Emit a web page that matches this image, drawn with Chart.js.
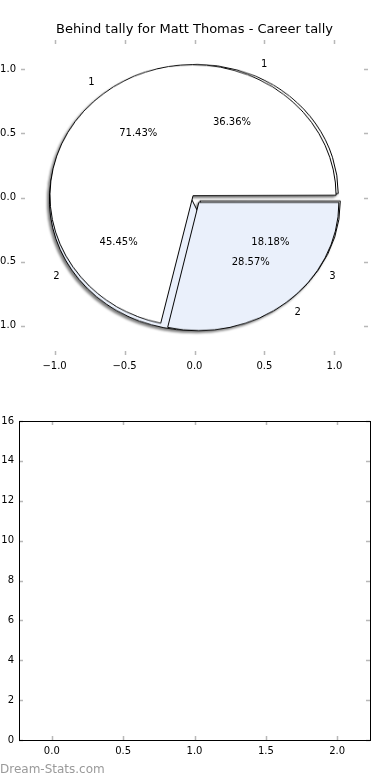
<!DOCTYPE html>
<html>
<head>
<meta charset="utf-8">
<script src="https://cdn.jsdelivr.net/npm/chart.js@4.4.0/dist/chart.umd.min.js"></script>
<style>
    html, body { margin: 0; padding: 0; background: #fff; }
    body { width: 390px; height: 780px; position: relative; overflow: hidden; }
    #pieCanvas { position: absolute; left: -40px; top: 0; }
    #barCanvas { position: absolute; left: 0; top: 390px; }
    #pieLayer {
        position: absolute; left: 0; top: 0; width: 390px; height: 390px;
        filter: drop-shadow(-2px 2px 1px rgba(0, 0, 0, 0.5));
    }
    #pieLayer canvas { position: absolute; }
</style>
</head>
<body>
<div id="pieLayer"></div>
<canvas id="pieCanvas" width="470" height="390"></canvas>
<canvas id="barCanvas" width="390" height="390"></canvas>
<script>
// Chart data
const chartTitle = 'Behind tally for Matt Thomas - Career tally';
const backLabels = ['1', '2', '3'];
const backValues = [4, 5, 2];
const frontLabels = ['1', '2'];
const frontValues = [5, 2];
const sliceColors = ['#ffffff', '#eaf0fb', '#ffffff'];
const explode = 0.045;

// Tick values
const pieTicks = [-1.0, -0.5, 0.0, 0.5, 1.0];
const barXTicks = [0.0, 0.5, 1.0, 1.5, 2.0];
const barYTicks = [0, 2, 4, 6, 8, 10, 12, 14, 16];

const FONT = 'DejaVu Sans';

function fmtTick(v) {
    return v.toFixed(1).replace('-', '\u2212');
}

/**
 * Draw short inward tick marks on all four sides of the chart area
 */
const innerTicks = {
    id: 'innerTicks',
    afterDraw(chart, args, opts) {
        const ctx = chart.ctx;
        const area = chart.chartArea;
        const len = 4;
        ctx.save();
        ctx.strokeStyle = '#b8b8b8';
        ctx.lineWidth = 1.5;
        chart.scales.x.ticks.forEach(t => {
            const px = Math.round(chart.scales.x.getPixelForValue(t.value)) + 0.5;
            ctx.beginPath();
            ctx.moveTo(px, area.top); ctx.lineTo(px, area.top + len);
            ctx.moveTo(px, area.bottom); ctx.lineTo(px, area.bottom - len);
            ctx.stroke();
        });
        chart.scales.y.ticks.forEach(t => {
            const py = Math.round(chart.scales.y.getPixelForValue(t.value)) + 0.5;
            ctx.beginPath();
            ctx.moveTo(area.left, py); ctx.lineTo(area.left + len, py);
            ctx.moveTo(area.right, py); ctx.lineTo(area.right - len, py);
            ctx.stroke();
        });
        if (opts.frame) {
            ctx.strokeStyle = '#000';
            ctx.lineWidth = 1;
            ctx.strokeRect(Math.round(area.left) + 0.5, Math.round(area.top) + 0.5,
                Math.round(area.right - area.left), Math.round(area.bottom - area.top));
        }
        if (opts.title) {
            ctx.fillStyle = '#000';
            ctx.font = '13px "' + FONT + '"';
            ctx.textAlign = 'center';
            ctx.textBaseline = 'middle';
            ctx.fillText(opts.title, (area.left + area.right) / 2, 30);
        }
        if (opts.watermark) {
            ctx.fillStyle = '#9a9a9a';
            ctx.font = '12px "' + FONT + '"';
            ctx.textAlign = 'left';
            ctx.textBaseline = 'middle';
            ctx.fillText(opts.watermark, 0, chart.height - 10);
        }
        ctx.restore();
    }
};

/**
 * Label and percentage texts for both pies, placed through the axes scales
 */
function pieTexts(values, labels) {
    const total = values.reduce((a, b) => a + b, 0);
    const out = [];
    let start = 0;
    values.forEach((v, i) => {
        const mid = (start + v / 2) / total * 2 * Math.PI;
        start += v;
        const cx = explode * Math.cos(mid);
        const cy = explode * Math.sin(mid);
        out.push({ x: cx + 1.1 * Math.cos(mid), y: cy + 1.1 * Math.sin(mid), text: labels[i],
            align: Math.cos(mid) > 0 ? 'left' : 'right' });
        out.push({ x: cx + 0.6 * Math.cos(mid), y: cy + 0.6 * Math.sin(mid),
            text: (v / total * 100).toFixed(2) + '%', align: 'center' });
    });
    return out;
}

const pieText = {
    id: 'pieText',
    afterDraw(chart) {
        const ctx = chart.ctx;
        const xs = chart.scales.x, ys = chart.scales.y;
        ctx.save();
        ctx.fillStyle = '#000';
        ctx.font = '10px "' + FONT + '"';
        ctx.textBaseline = 'middle';
        pieTexts(backValues, backLabels).concat(pieTexts(frontValues, frontLabels)).forEach(t => {
            ctx.textAlign = t.align;
            ctx.fillText(t.text, xs.getPixelForValue(t.x), ys.getPixelForValue(t.y));
        });
        ctx.restore();
    }
};

function tickAxis(values, fmt, extra) {
    return Object.assign({
        type: 'linear',
        border: { display: false },
        grid: { display: false, drawTicks: false },
        afterBuildTicks: axis => { axis.ticks = values.map(v => ({ value: v })); },
        ticks: {
            color: '#000',
            font: { family: FONT, size: 10 },
            padding: 5,
            callback: v => fmt(v)
        }
    }, extra);
}

// Axes for the pie
const pieAxes = new Chart(document.getElementById('pieCanvas'), {
    type: 'scatter',
    data: { datasets: [{ data: [] }] },
    options: {
        responsive: false,
        animation: false,
        layout: { padding: { left: 0, right: 62, top: 40, bottom: 0 } },
        scales: {
            x: tickAxis(pieTicks, fmtTick, { min: -1.24, max: 1.24, afterFit: s => { s.height = 35; } }),
            y: tickAxis(pieTicks, fmtTick, { min: -1.23, max: 1.23, afterFit: s => { s.width = 61; } })
        },
        plugins: {
            legend: { display: false },
            tooltip: { enabled: false },
            innerTicks: { title: chartTitle }
        }
    },
    plugins: [innerTicks, pieText]
});

// Build both pies in the same data space as the axes
const xs = pieAxes.scales.x, ys = pieAxes.scales.y;
const rx = xs.getPixelForValue(1) - xs.getPixelForValue(0);
const ry = ys.getPixelForValue(0) - ys.getPixelForValue(1);
const centerX = -40 + xs.getPixelForValue(0);
const centerY = ys.getPixelForValue(0);
const size = Math.ceil(2 * (rx + 16));

// Chart.js moves an arc by offset/4 * (2 - sin(circumference)); invert that
function sliceOffsets(values) {
    const total = values.reduce((a, b) => a + b, 0);
    const d = explode * rx;
    return values.map(v => {
        const circ = v / total * 2 * Math.PI;
        const fix = 1 - Math.sin(Math.min(Math.PI, circ));
        return 4 * d / (1 + fix);
    });
}

function makePie(values, labels) {
    const canvas = document.createElement('canvas');
    canvas.width = size;
    canvas.height = size;
    canvas.style.left = (centerX - size / 2) + 'px';
    canvas.style.top = (centerY - size / 2) + 'px';
    // flip so slices run counter-clockwise, squash into the axes ellipse
    canvas.style.transform = 'scaleY(' + (-ry / rx) + ')';
    document.getElementById('pieLayer').appendChild(canvas);
    new Chart(canvas, {
        type: 'pie',
        data: {
            labels: labels,
            datasets: [{
                data: values,
                backgroundColor: sliceColors.slice(0, values.length),
                borderColor: '#000',
                borderWidth: 1,
                offset: sliceOffsets(values)
            }]
        },
        options: {
            responsive: false,
            animation: false,
            rotation: 90,
            radius: rx,
            layout: { padding: 0 },
            plugins: { legend: { display: false }, tooltip: { enabled: false } }
        }
    });
}

makePie(backValues, backLabels);
makePie(frontValues, frontLabels);

// Empty bar axes below
new Chart(document.getElementById('barCanvas'), {
    type: 'scatter',
    data: { datasets: [{ data: [] }] },
    options: {
        responsive: false,
        animation: false,
        layout: { padding: { left: 0, right: 20, top: 31, bottom: 0 } },
        scales: {
            x: tickAxis(barXTicks, fmtTick, { min: -0.23, max: 2.23, afterFit: s => { s.height = 40; } }),
            y: tickAxis(barYTicks, v => String(v), { min: 0, max: 16, afterFit: s => { s.width = 19; } })
        },
        plugins: {
            legend: { display: false },
            tooltip: { enabled: false },
            innerTicks: { frame: true, watermark: 'Dream-Stats.com' }
        }
    },
    plugins: [innerTicks]
});
</script>
</body>
</html>
